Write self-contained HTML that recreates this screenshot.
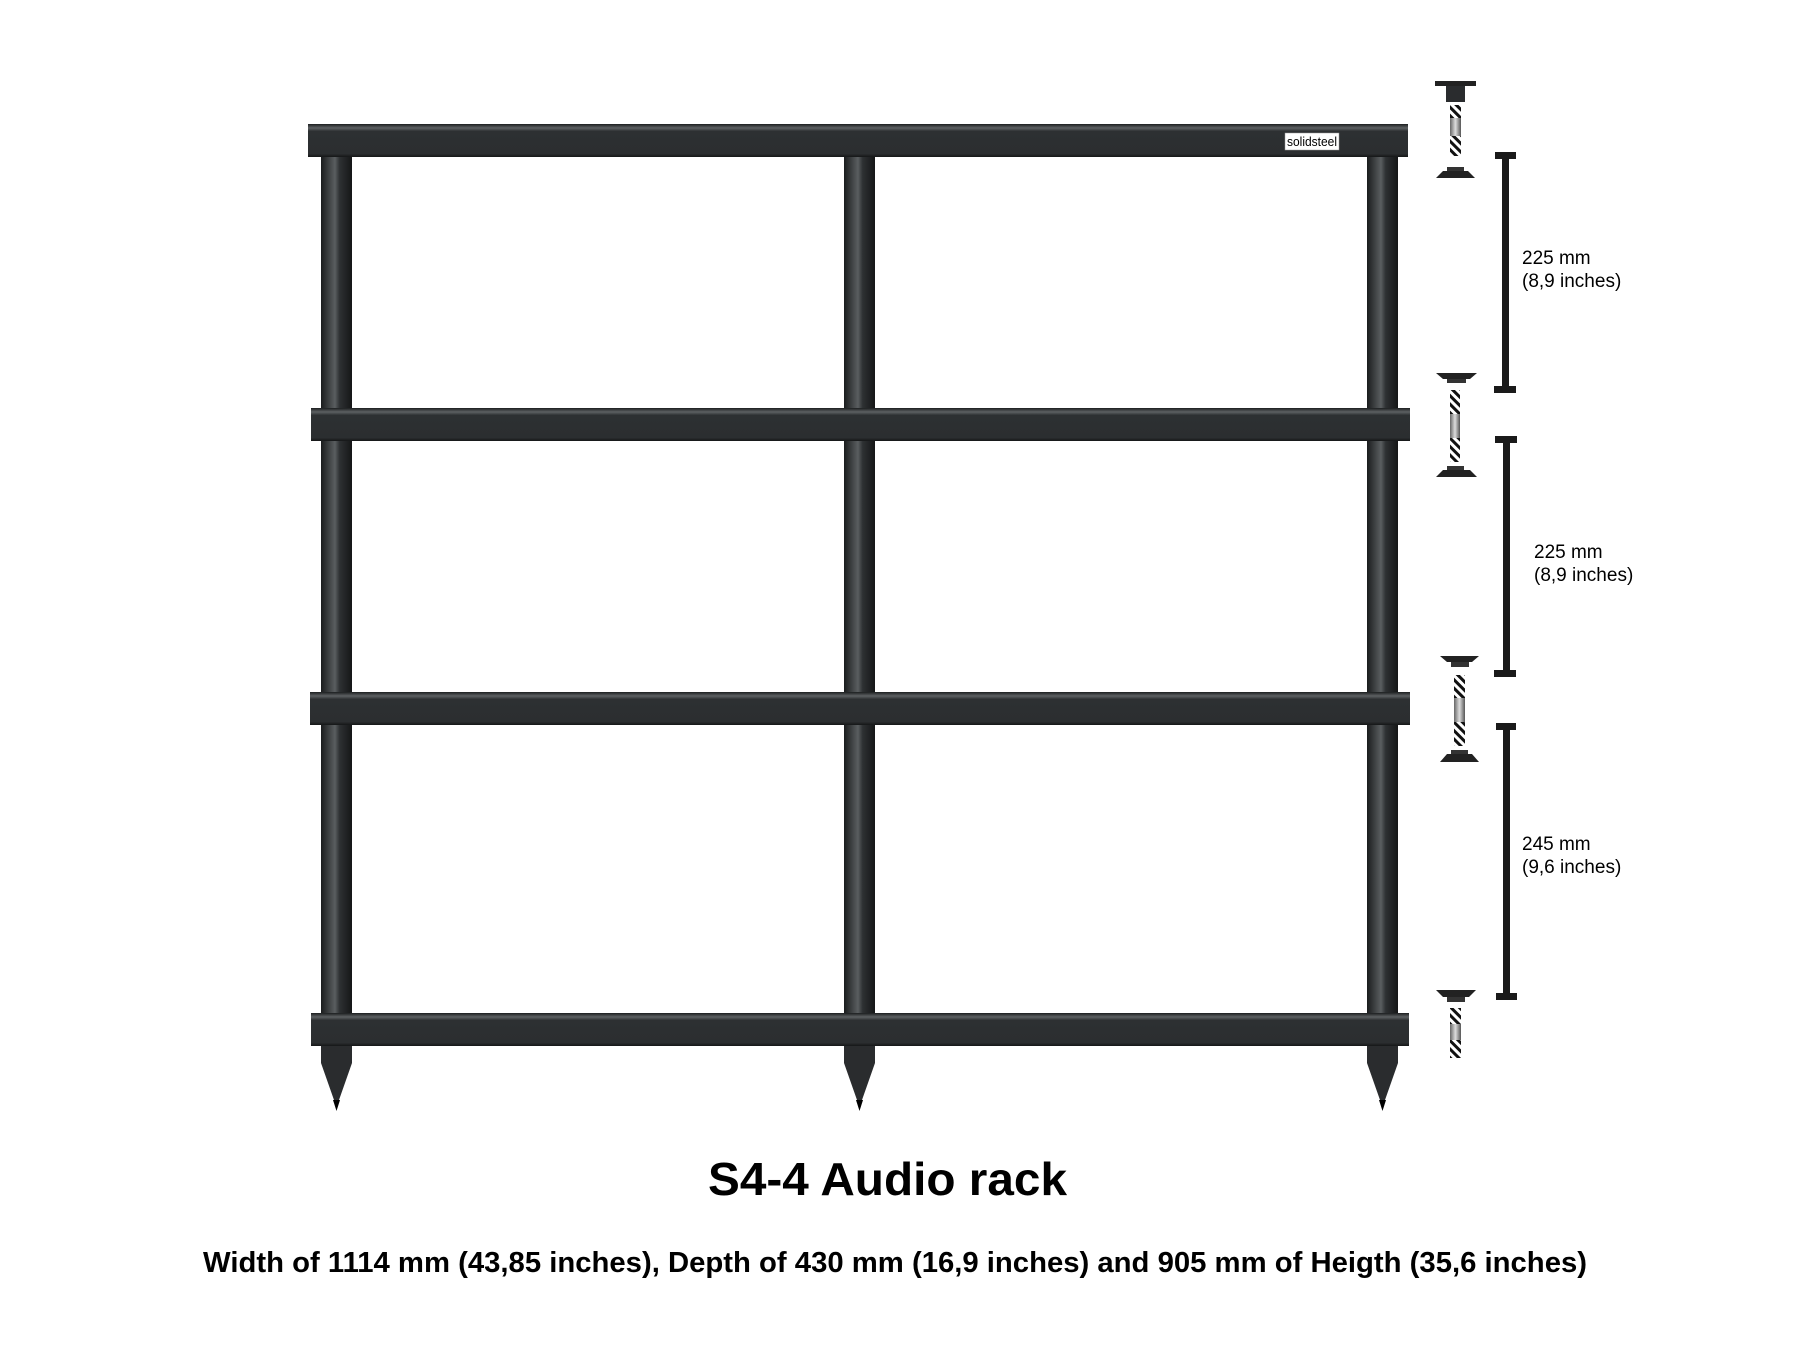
<!DOCTYPE html>
<html><head><meta charset="utf-8"><style>
html,body{margin:0;padding:0;background:#fff;}
svg{display:block;}
</style></head><body>
<svg width="1800" height="1350" viewBox="0 0 1800 1350" xmlns="http://www.w3.org/2000/svg">
<defs>
<linearGradient id="post" x1="0" x2="1" y1="0" y2="0">
<stop offset="0" stop-color="#1a1c1d"/><stop offset="0.45" stop-color="#5a5e60"/><stop offset="0.6" stop-color="#2e3133"/><stop offset="1" stop-color="#151617"/>
</linearGradient>
<linearGradient id="shelf" x1="0" x2="0" y1="0" y2="1">
<stop offset="0" stop-color="#1c1e1f"/><stop offset="0.12" stop-color="#5d6163"/><stop offset="0.22" stop-color="#2d3032"/><stop offset="0.9" stop-color="#2b2e30"/><stop offset="1" stop-color="#151617"/>
</linearGradient>
<linearGradient id="rodg" x1="0" x2="1"><stop offset="0" stop-color="#666"/><stop offset="0.5" stop-color="#ddd"/><stop offset="1" stop-color="#555"/></linearGradient>
<pattern id="hatch" width="6" height="6" patternUnits="userSpaceOnUse" patternTransform="rotate(-45)">
<rect width="6" height="6" fill="#fff"/><rect width="3" height="6" fill="#111"/>
</pattern>
</defs>

<g fill="url(#post)">
<rect x="321" y="150" width="31" height="905"/>
<rect x="844" y="150" width="31" height="905"/>
<rect x="1367" y="150" width="31" height="905"/>
</g>
<g fill="#2a2c2e">
<polygon points="321,1046 352,1046 352,1063 339,1100 334,1100 321,1063"/>
<polygon points="844,1046 875,1046 875,1063 862,1100 857,1100 844,1063"/>
<polygon points="1367,1046 1398,1046 1398,1063 1385,1100 1380,1100 1367,1063"/>
<polygon points="333,1100 340,1100 336.5,1111" fill="#000"/>
<polygon points="856,1100 863,1100 859.5,1111" fill="#000"/>
<polygon points="1379,1100 1386,1100 1382.5,1111" fill="#000"/>
</g>
<g fill="url(#shelf)">
<rect x="308" y="124" width="1100" height="33"/>
<rect x="311" y="408" width="1099" height="33"/>
<rect x="310" y="692" width="1100" height="33"/>
<rect x="311" y="1013" width="1098" height="33"/>
</g>
<rect x="1285" y="133" width="54" height="17" fill="#fff" stroke="#999" stroke-width="0.5"/>
<text x="1312" y="146" font-family="Liberation Sans, sans-serif" font-size="13" text-anchor="middle" fill="#000" textLength="50" lengthAdjust="spacingAndGlyphs">solidsteel</text>

<g>
<rect x="1435" y="81" width="41" height="5" fill="#222"/>
<rect x="1446" y="86" width="19" height="16" fill="#2a2c2e"/>
<rect x="1450" y="105" width="11" height="51" fill="url(#hatch)"/>
<rect x="1450" y="118" width="11" height="18" fill="url(#rodg)"/>
<rect x="1447" y="167" width="17" height="4" fill="#333"/>
<polygon points="1443,171 1468,171 1475,178 1436,178" fill="#222"/>
</g>
<g>
<polygon points="1436,373 1477,373 1470,379 1443,379" fill="#222"/>
<rect x="1447" y="379" width="19" height="4" fill="#333"/>
<rect x="1450" y="390" width="10" height="72" fill="url(#hatch)"/>
<rect x="1450" y="414" width="10" height="24" fill="url(#rodg)"/>
<rect x="1447" y="466" width="17" height="4" fill="#333"/>
<polygon points="1443,470 1470,470 1477,477 1436,477" fill="#222"/>
</g>
<g>
<polygon points="1440,656 1479,656 1472,662 1447,662" fill="#222"/>
<rect x="1451" y="662" width="18" height="5" fill="#333"/>
<rect x="1454" y="675" width="11" height="71" fill="url(#hatch)"/>
<rect x="1454" y="698" width="11" height="24" fill="url(#rodg)"/>
<rect x="1451" y="750" width="17" height="4" fill="#333"/>
<polygon points="1447,754 1472,754 1479,762 1440,762" fill="#222"/>
</g>
<g>
<polygon points="1436,990 1476,990 1469,997 1443,997" fill="#222"/>
<rect x="1447" y="997" width="18" height="5" fill="#333"/>
<rect x="1450" y="1008" width="11" height="50" fill="url(#hatch)"/>
<rect x="1450" y="1024" width="11" height="16" fill="url(#rodg)"/>
</g>

<g fill="#1a1a1a">
<rect x="1495" y="152" width="21" height="7"/><rect x="1502" y="152" width="7" height="241"/><rect x="1494" y="386" width="22" height="7"/>
<rect x="1495" y="436" width="22" height="7"/><rect x="1503" y="436" width="7" height="241"/><rect x="1494" y="670" width="22" height="7"/>
<rect x="1496" y="723" width="20" height="7"/><rect x="1503" y="723" width="7" height="277"/><rect x="1496" y="993" width="21" height="7"/>
</g>
<g font-family="Liberation Sans, sans-serif" font-size="19" fill="#000">
<text x="1522" y="264">225 mm</text><text x="1522" y="287">(8,9 inches)</text>
<text x="1534" y="558">225 mm</text><text x="1534" y="581">(8,9 inches)</text>
<text x="1522" y="850">245 mm</text><text x="1522" y="873">(9,6 inches)</text>
</g>

<text x="708" y="1195" font-family="Liberation Sans, sans-serif" font-weight="bold" font-size="46" fill="#000" textLength="359" lengthAdjust="spacingAndGlyphs">S4-4 Audio rack</text>
<text x="203" y="1272" font-family="Liberation Sans, sans-serif" font-weight="bold" font-size="29" fill="#000" textLength="1384" lengthAdjust="spacingAndGlyphs">Width of 1114 mm (43,85 inches), Depth of 430 mm (16,9 inches) and 905 mm of Heigth (35,6 inches)</text>
</svg>
</body></html>
